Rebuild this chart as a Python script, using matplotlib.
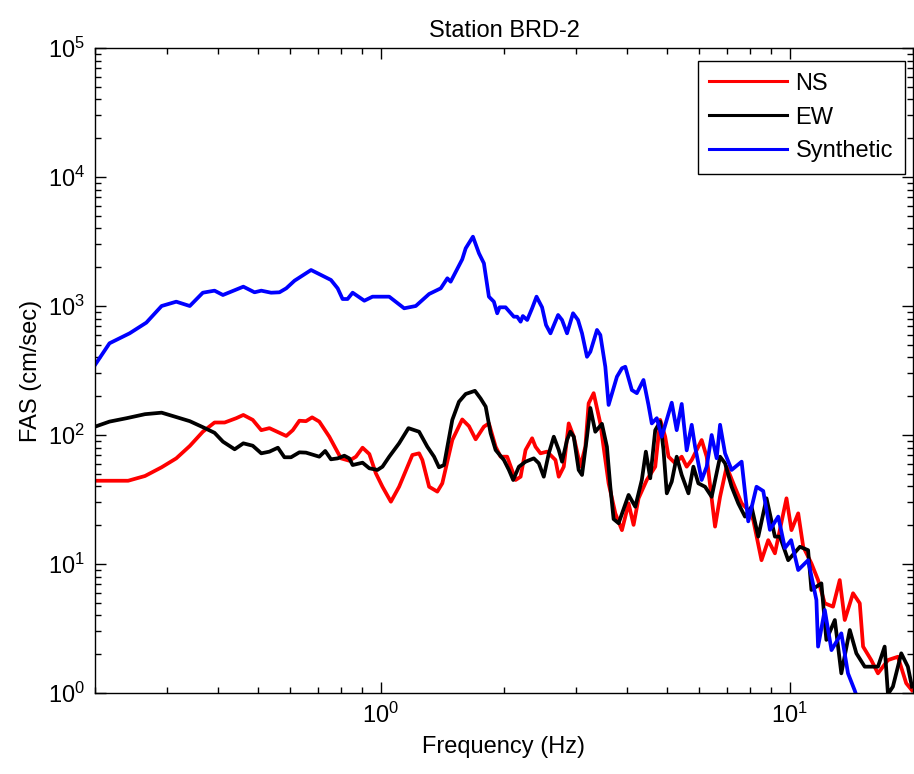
import matplotlib
matplotlib.use("Agg")
import matplotlib.pyplot as plt
import numpy as np


# Fourier amplitude spectra read per component (Hz, cm/sec)
ns_freq = [
    0.200, 0.241, 0.265, 0.291, 0.316, 0.341, 0.367, 0.392, 0.415, 0.443,
    0.461, 0.486, 0.510, 0.534, 0.587, 0.609, 0.632, 0.656, 0.679, 0.707,
    0.748, 0.777, 0.799, 0.837, 0.869, 0.902, 0.937, 0.972, 1.009, 1.058,
    1.108, 1.194, 1.240, 1.263, 1.312, 1.374, 1.413, 1.495, 1.581, 1.642,
    1.705, 1.786, 1.837, 1.908, 1.962, 2.036, 2.135, 2.196, 2.258, 2.343,
    2.388, 2.456, 2.549, 2.672, 2.722, 2.800, 2.879, 2.962, 3.075, 3.162,
    3.221, 3.313, 3.440, 3.604, 3.743, 3.885, 4.033, 4.148, 4.266, 4.468,
    4.686, 4.819, 4.956, 5.050, 5.243, 5.439, 5.594, 5.754, 6.085, 6.260,
    6.562, 6.750, 7.004, 7.273, 7.621, 7.911, 8.137, 8.524, 8.853, 9.192,
    9.811, 10.09, 10.48, 10.78, 11.29, 11.72, 12.17, 12.75, 13.24, 13.62,
    14.27, 14.82, 15.10, 15.81, 16.42, 17.37, 18.37, 19.25, 19.88,
]
ns_fas = [
    44.2, 44.2, 48.1, 56.2, 65.9, 82.2, 106, 125, 125, 135,
    143, 131, 109, 113, 98.3, 109, 129, 128, 137, 127,
    97.0, 77.5, 65.9, 63.2, 67.9, 79.7, 71.2, 50.5, 39.7, 30.4,
    39.7, 70.0, 72.1, 64.0, 39.7, 36.4, 42.2, 91.4, 132, 117,
    92.6, 116, 123, 81.1, 67.9, 67.9, 44.8, 47.5, 76.5, 94.3,
    81.1, 72.1, 74.3, 64.0, 47.5, 56.8, 123, 97.0, 56.8, 81.1,
    176, 211, 123, 42.2, 24.7, 18.3, 29.5, 20.1, 32.3, 44.8,
    56.8, 131, 97.0, 67.9, 60.4, 67.9, 56.8, 64.0, 91.4, 67.9,
    19.5, 33.2, 56.8, 42.2, 29.5, 26.2, 21.9, 10.7, 15.3, 12.1,
    32.3, 18.3, 24.7, 13.6, 10.1, 7.51, 4.96, 4.67, 7.51, 3.68,
    5.93, 4.96, 2.29, 1.80, 1.42, 1.80, 1.91, 1.19, 1.05,
]

ew_freq = [
    0.200, 0.217, 0.239, 0.265, 0.291, 0.313, 0.341, 0.367, 0.392, 0.411,
    0.439, 0.461, 0.486, 0.510, 0.534, 0.560, 0.581, 0.603, 0.632, 0.656,
    0.707, 0.731, 0.755, 0.784, 0.814, 0.837, 0.853, 0.902, 0.937, 0.981,
    1.009, 1.048, 1.108, 1.168, 1.240, 1.299, 1.349, 1.387, 1.427, 1.495,
    1.552, 1.612, 1.698, 1.753, 1.804, 1.855, 1.908, 1.999, 2.056, 2.106,
    2.175, 2.258, 2.365, 2.433, 2.502, 2.574, 2.647, 2.722, 2.773, 2.852,
    2.906, 2.962, 3.045, 3.103, 3.191, 3.252, 3.344, 3.471, 3.570, 3.639,
    3.707, 3.813, 4.033, 4.188, 4.345, 4.445, 4.556, 4.686, 4.819, 4.909,
    5.001, 5.142, 5.288, 5.439, 5.649, 5.809, 5.974, 6.203, 6.438, 6.750,
    6.942, 7.204, 7.479, 7.766, 8.058, 8.370, 8.768, 9.192, 9.455, 9.906,
    10.58, 11.08, 11.29, 11.94, 12.28, 12.88, 13.36, 14.01, 14.54, 15.24,
    16.42, 17.05, 17.37, 17.86, 18.72, 19.43, 19.88,
]
ew_fas = [
    116, 127, 135, 145, 149, 139, 128, 115, 104, 88.8,
    77.5, 86.2, 82.6, 72.1, 74.3, 79.7, 67.2, 67.2, 73.4, 73.0,
    67.9, 75.2, 64.8, 65.9, 69.1, 65.9, 58.5, 61.0, 55.2, 53.6,
    56.8, 67.9, 86.2, 113, 106, 81.1, 67.9, 56.2, 58.5, 131,
    181, 208, 220, 192, 166, 103, 76.5, 64.0, 53.6, 44.8,
    56.8, 62.1, 65.9, 60.4, 47.5, 72.1, 97.0, 76.5, 62.1, 91.4,
    106, 97.0, 53.6, 49.0, 97.0, 162, 106, 122, 81.1, 39.7,
    22.3, 20.7, 34.3, 27.8, 44.8, 74.3, 46.2, 109, 127, 76.5,
    35.3, 43.5, 67.9, 49.0, 35.3, 56.8, 42.2, 39.7, 33.2, 67.9,
    60.4, 39.7, 29.5, 23.3, 27.8, 16.3, 32.3, 16.3, 16.3, 10.7,
    13.6, 12.8, 6.29, 7.08, 2.58, 3.68, 1.42, 3.08, 2.03, 1.60,
    1.60, 2.29, 0.98, 1.12, 2.03, 1.60, 1.12,
]

syn_freq = [
    0.200, 0.217, 0.243, 0.267, 0.291, 0.316, 0.341, 0.367, 0.392, 0.411,
    0.461, 0.491, 0.510, 0.539, 0.565, 0.587, 0.615, 0.675, 0.714, 0.755,
    0.784, 0.806, 0.829, 0.853, 0.911, 0.954, 1.048, 1.140, 1.217, 1.312,
    1.401, 1.454, 1.481, 1.581, 1.612, 1.679, 1.737, 1.786, 1.837, 1.889,
    1.925, 1.951, 2.018, 2.114, 2.154, 2.196, 2.224, 2.279, 2.343, 2.402,
    2.478, 2.534, 2.598, 2.712, 2.773, 2.852, 2.950, 3.034, 3.103, 3.191,
    3.252, 3.376, 3.440, 3.538, 3.604, 3.777, 3.885, 3.959, 4.108, 4.225,
    4.386, 4.511, 4.596, 4.727, 4.862, 5.142, 5.288, 5.439, 5.594, 5.754,
    5.865, 6.085, 6.260, 6.438, 6.622, 6.750, 6.942, 7.204, 7.621, 7.911,
    8.288, 8.607, 8.937, 9.365, 9.723, 10.07, 10.48, 11.08, 11.61, 11.72,
    12.17, 12.64, 13.36, 13.87, 14.40, 14.68,
]
syn_fas = [
    349, 514, 614, 743, 1000, 1080, 1000, 1268, 1315, 1217,
    1412, 1277, 1315, 1268, 1277, 1371, 1571, 1901, 1739, 1591,
    1371, 1133, 1133, 1268, 1099, 1181, 1181, 960, 1000, 1239,
    1371, 1640, 1543, 2301, 2800, 3445, 2563, 2143, 1181, 1080,
    878, 977, 977, 826, 826, 756, 836, 779, 960, 1181,
    977, 712, 614, 852, 779, 614, 878, 779, 614, 404,
    442, 652, 596, 338, 171, 283, 329, 338, 223, 211,
    267, 171, 123, 135, 97.0, 178, 109, 174, 76.0, 120,
    81.0, 44.8, 56.8, 100, 66.0, 120, 72.1, 53.6, 62.1, 21.4,
    39.7, 36.8, 18.4, 23.3, 13.3, 15.3, 8.98, 10.7, 5.26, 2.29,
    4.40, 2.15, 2.90, 1.42, 1.05, 0.88,
]


def main():

    plt.rcParams["font.family"] = ["Liberation Sans", "DejaVu Sans"]
    plt.rcParams["mathtext.fontset"] = "custom"
    plt.rcParams["mathtext.rm"] = "Liberation Sans"
    plt.rcParams["font.size"] = 17

    fig = plt.figure(figsize=(9.14, 7.74), dpi=100)
    ax = fig.add_axes([95 / 914, 81 / 774, 818 / 914, 645 / 774])

    ax.loglog(ns_freq, ns_fas, color="#ff0000", linewidth=2.7, label="NS")
    ax.loglog(ew_freq, ew_fas, color="#000000", linewidth=2.7, label="EW")
    ax.loglog(syn_freq, syn_fas, color="#0000ff", linewidth=2.7,
              label="Synthetic")

    ax.set_xlim(0.2, 20)
    ax.set_ylim(1, 1e5)

    ax.xaxis.set_major_locator(matplotlib.ticker.LogLocator(base=10))
    ax.yaxis.set_major_locator(matplotlib.ticker.LogLocator(base=10))
    ax.xaxis.set_minor_locator(
        matplotlib.ticker.LogLocator(base=10, subs=np.arange(2, 10)))
    ax.yaxis.set_minor_locator(
        matplotlib.ticker.LogLocator(base=10, subs=np.arange(2, 10)))
    ax.xaxis.set_minor_formatter(matplotlib.ticker.NullFormatter())
    ax.yaxis.set_minor_formatter(matplotlib.ticker.NullFormatter())

    ax.tick_params(which="both", direction="in", top=True, right=True,
                   width=1, labelsize=17)
    ax.tick_params(which="major", length=8, pad=7)
    ax.tick_params(which="minor", length=4.5)
    for spine in ax.spines.values():
        spine.set_linewidth(1)

    ax.set_xlabel("Frequency (Hz)", fontsize=17, labelpad=6)
    ax.set_ylabel("FAS (cm/sec)", fontsize=17, labelpad=4)
    ax.set_title("Station BRD-2", fontsize=17, pad=8)

    leg = ax.legend(loc="upper right", bbox_to_anchor=(0.990, 0.980),
                    fancybox=False, framealpha=1, edgecolor="black",
                    fontsize=17, handlelength=3.3, handletextpad=0.35,
                    labelspacing=0.5, borderpad=0.5, borderaxespad=0)
    leg.get_frame().set_linewidth(1)
    for handle in leg.legend_handles:
        handle.set_linewidth(2.2)

    fig.savefig("out.png", dpi=100)
    plt.close(fig)


if __name__ == "__main__":
    main()
